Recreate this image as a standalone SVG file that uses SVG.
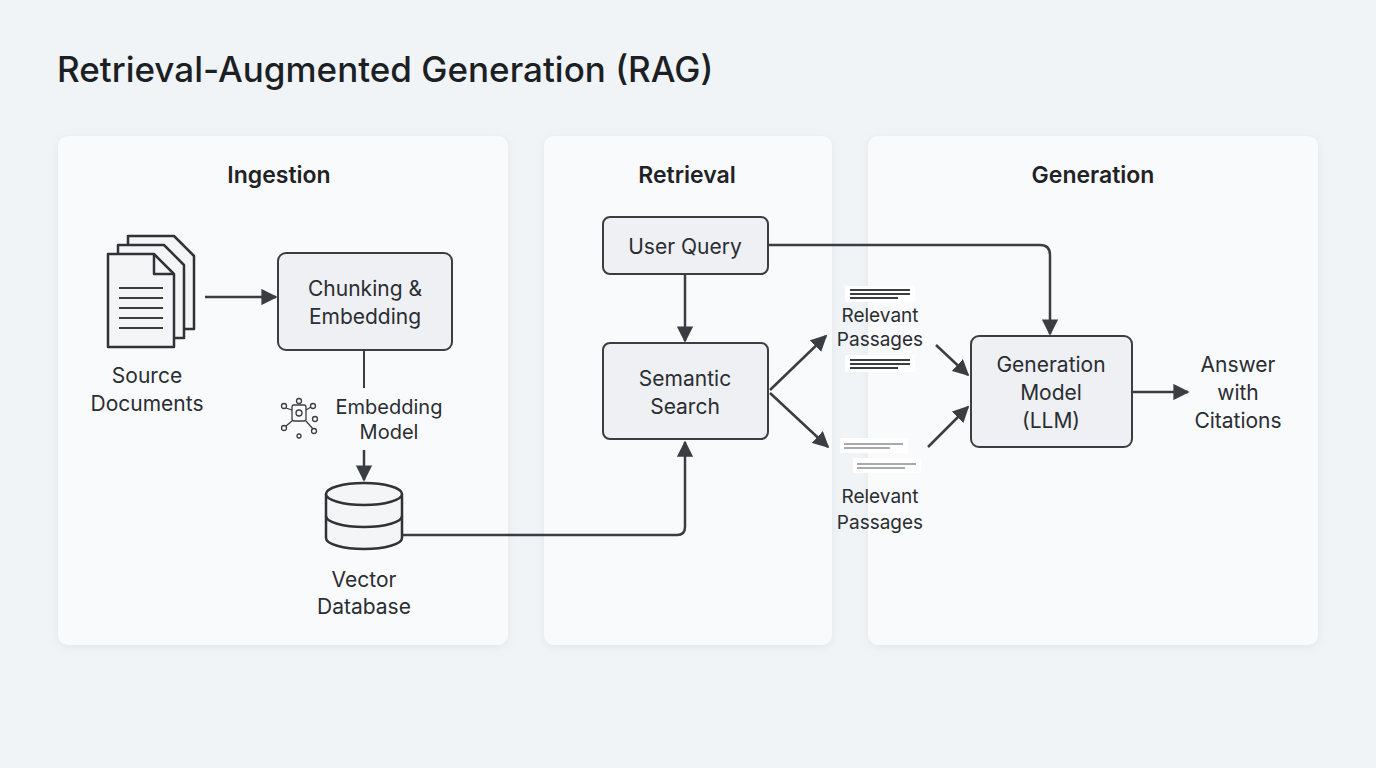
<svg xmlns="http://www.w3.org/2000/svg" width="1376" height="768" viewBox="0 0 1376 768">
<defs>
<marker id="ah" viewBox="0 0 10 10" refX="9" refY="5" markerWidth="6.5" markerHeight="6.5" orient="auto" markerUnits="strokeWidth"><path d="M0,0 L10,5 L0,10 z" fill="#3a3d42"/></marker>
<filter id="sh" x="-5%" y="-5%" width="110%" height="110%"><feDropShadow dx="0" dy="2" stdDeviation="4" flood-color="#8090a0" flood-opacity="0.15"/></filter>
</defs>
<style>
text{font-family:Inter,"Noto Sans","Liberation Sans",sans-serif;fill:#2a2d32}
.t{font-size:21px;text-anchor:middle}
.h{font-size:23px;font-weight:600;text-anchor:middle;fill:#1f2226}
.panel{fill:#f9fafb;filter:url(#sh)}
.box{fill:#eef0f3;stroke:#3a3d42;stroke-width:2}
.c{fill:none;stroke:#3a3d42;stroke-width:2.5;marker-end:url(#ah)}
.ln{stroke:#3a3d42;stroke-width:2}
.card{fill:#ffffff}
</style>
<rect width="1376" height="768" fill="#f1f4f7"/>
<text x="57" y="82" style="font-size:35px;font-weight:500;fill:#1c1f23">Retrieval-Augmented Generation (RAG)</text>
<g id="panels">
<rect class="panel" x="58" y="136" width="450" height="509" rx="10"/>
<rect class="panel" x="544" y="136" width="288" height="509" rx="10"/>
<rect class="panel" x="868" y="136" width="450" height="509" rx="10"/>
<text class="h" x="279" y="183">Ingestion</text>
<text class="h" x="687" y="183">Retrieval</text>
<text class="h" x="1093" y="183">Generation</text>
</g>
<g id="source-docs">
<g fill="#f4f5f7" stroke="#2f3236" stroke-width="2.5" stroke-linejoin="round">
<path d="M128,236 h46 l20,20 v73 h-66 z"/>
<path d="M118,245 h46 l20,20 v73 h-66 z"/>
<path d="M108,254 h46 l20,20 v73 h-66 z"/>
<path d="M154,254 v20 h20" fill="none"/>
</g>
<g class="ln" stroke-width="2.5"><line x1="119" y1="288" x2="163" y2="288"/><line x1="119" y1="298" x2="163" y2="298"/><line x1="119" y1="308" x2="163" y2="308"/><line x1="119" y1="318" x2="163" y2="318"/><line x1="119" y1="328" x2="163" y2="328"/></g>
<text class="t" x="147" y="383">Source</text><text class="t" x="147" y="411">Documents</text>
</g>
<g id="chunking"><rect class="box" x="278" y="253" width="174" height="97" rx="8"/><text class="t" x="365" y="296">Chunking &amp;</text><text class="t" x="365" y="324">Embedding</text></g>
<g id="embedding-model">
<g fill="none" stroke="#3a3d42" stroke-width="1.3"><rect x="292" y="405" width="14" height="16" rx="2"/><circle cx="299" cy="413" r="3"/><circle cx="284" cy="406" r="2.5"/><circle cx="299" cy="401" r="2.5"/><circle cx="313" cy="406" r="2.5"/><circle cx="315" cy="419" r="2.5"/><circle cx="284" cy="428" r="2.5"/><circle cx="299" cy="436" r="2"/><circle cx="314" cy="431" r="2.5"/><path d="M286,408 L292,410 M306,421 L313,429 M292,421 L286,426 M306,410 L311,407"/></g>
<text class="t" x="389" y="414" style="font-size:20px">Embedding</text><text class="t" x="389" y="439" style="font-size:20px">Model</text>
</g>
<g id="vector-db">
<path d="M326,494 v44 a38,11 0 0 0 76,0 v-44" fill="#f4f5f7" stroke="#2f3236" stroke-width="2.5"/>
<path d="M326,516 a38,11 0 0 0 76,0" fill="none" stroke="#2f3236" stroke-width="2.5"/>
<ellipse cx="364" cy="494" rx="38" ry="11" fill="#f4f5f7" stroke="#2f3236" stroke-width="2.5"/>
<text class="t" x="364" y="587">Vector</text><text class="t" x="364" y="614">Database</text>
</g>
<g id="user-query"><rect class="box" x="603" y="217" width="165" height="57" rx="7"/><text class="t" x="685" y="254">User Query</text></g>
<g id="semantic-search"><rect class="box" x="603" y="343" width="165" height="96" rx="7"/><text class="t" x="685" y="386">Semantic</text><text class="t" x="685" y="414">Search</text></g>
<g id="passages-top">
<rect class="card" x="845" y="286" width="70" height="16" rx="2"/>
<g class="ln"><line x1="850" y1="290" x2="910" y2="290"/><line x1="850" y1="294" x2="910" y2="294"/><line x1="850" y1="298" x2="898" y2="298"/></g>
<text class="t" x="880" y="322" style="font-size:19px">Relevant</text><text class="t" x="880" y="346" style="font-size:19px">Passages</text>
<rect class="card" x="845" y="355" width="70" height="17" rx="2"/>
<g class="ln"><line x1="850" y1="360" x2="910" y2="360"/><line x1="850" y1="364" x2="910" y2="364"/><line x1="850" y1="368" x2="898" y2="368"/></g>
</g>
<g id="passages-bottom">
<rect class="card" x="840" y="438" width="68" height="15" rx="2"/>
<g stroke="#555" stroke-width="1"><line x1="844" y1="444" x2="903" y2="444"/><line x1="844" y1="448" x2="890" y2="448"/></g>
<rect class="card" x="853" y="458" width="68" height="15" rx="2"/>
<g stroke="#555" stroke-width="1"><line x1="857" y1="464" x2="916" y2="464"/><line x1="857" y1="468" x2="905" y2="468"/></g>
<text class="t" x="880" y="503" style="font-size:19px">Relevant</text><text class="t" x="880" y="529" style="font-size:19px">Passages</text>
</g>
<g id="generation-model"><rect class="box" x="971" y="336" width="161" height="111" rx="8"/><text class="t" x="1051" y="372">Generation</text><text class="t" x="1051" y="400">Model</text><text class="t" x="1051" y="428">(LLM)</text></g>
<g id="answer"><text class="t" x="1238" y="372">Answer</text><text class="t" x="1238" y="400">with</text><text class="t" x="1238" y="428">Citations</text></g>
<g id="connectors">
<line class="c" x1="205" y1="297" x2="276" y2="297"/>
<line class="ln" x1="364" y1="350" x2="364" y2="388" stroke-width="2.5"/>
<line class="c" x1="364" y1="450" x2="364" y2="480"/>
<path class="c" d="M403,535 H677 Q685,535 685,527 V442"/>
<line class="c" x1="685" y1="274" x2="685" y2="341"/>
<path class="c" d="M768,245 H1040 Q1050,245 1050,255 V334"/>
<line class="c" x1="770" y1="390" x2="826" y2="336"/>
<line class="c" x1="770" y1="393" x2="828" y2="447"/>
<line class="c" x1="936" y1="345" x2="968" y2="375"/>
<line class="c" x1="928" y1="447" x2="968" y2="407"/>
<line class="c" x1="1132" y1="392" x2="1188" y2="392"/>
</g>
</svg>
